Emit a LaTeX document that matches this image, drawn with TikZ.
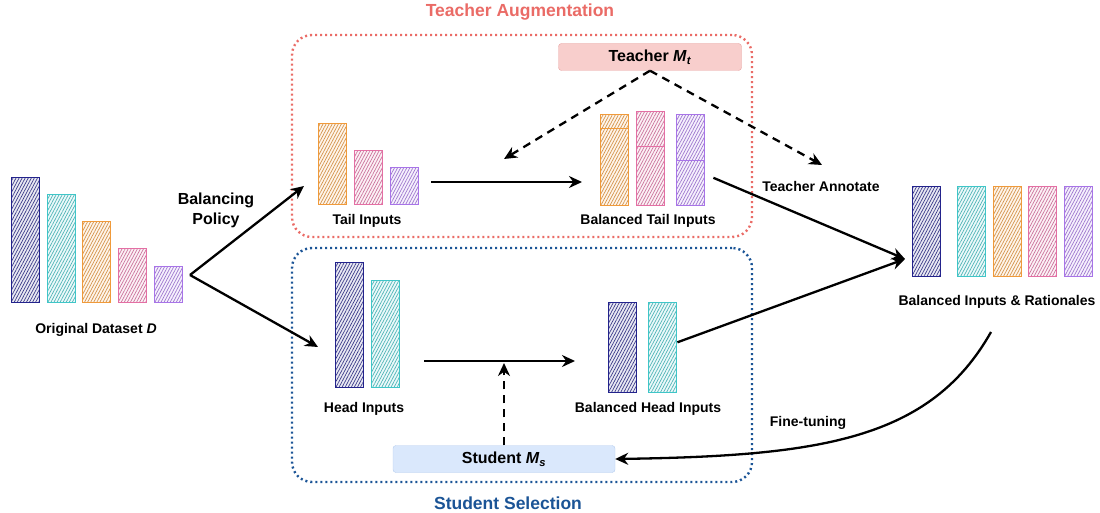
\documentclass[tikz,border=0pt]{standalone}
\usepackage{fontspec}
\setmainfont{Liberation Sans}
\usetikzlibrary{positioning,patterns.meta,arrows.meta,calc}
\definecolor{dnavy}{HTML}{23238C}
\definecolor{dcyan}{HTML}{3FC6C8}
\definecolor{dorange}{HTML}{F09A3A}
\definecolor{dpink}{HTML}{E46FA4}
\definecolor{dpurple}{HTML}{A874E8}
\definecolor{augred}{HTML}{EA6B66}
\definecolor{selblue}{HTML}{1B5496}
\definecolor{tfill}{HTML}{F8CECC}
\definecolor{tdraw}{HTML}{E8A3A1}
\definecolor{sfill}{HTML}{DAE8FC}
\definecolor{sdraw}{HTML}{B4CCEE}
\newcommand{\mdl}[2]{\textit{#1}\textsubscript{\textit{#2}}}

\begin{document}
\begin{tikzpicture}[x=1pt,y=-1pt,
        font=\fontsize{14}{16}\selectfont\bfseries,
        every node/.style={inner sep=0pt},
        bar/.style={draw=#1,line width=1.4pt,anchor=south west,minimum width=28pt,
          preaction={fill=#1!10},
          pattern={Lines[angle=62,distance=2.7pt,line width=0.7pt]},
          pattern color=#1!75!gray},
        frame/.style={draw,rounded corners=20pt,line width=2.4pt,dash pattern=on 2pt off 3pt},
        model/.style={rectangle,rounded corners=3pt,minimum height=27pt,font=\fontsize{16}{18}\selectfont\bfseries},
        title/.style={font=\fontsize{17.5}{20}\selectfont\bfseries},
        flow/.style={line width=2.3pt,-{Stealth[length=13pt,width=12pt]}},
        call/.style={flow,dash pattern=on 8pt off 6pt}
        ]
        \useasboundingbox (0,0) rectangle (1100,513);

        % the two stages
        \node[frame,draw=augred,minimum width=460pt,minimum height=202pt] (aug) at (522,136) {};
        \node[title,text=augred] (augtitle) at (520,12) {Teacher Augmentation};
        \node[frame,draw=selblue,minimum width=460pt,minimum height=234pt] (sel) at (522,365) {};
        \node[title,text=selblue] (seltitle) at (508,503) {Student Selection};

        % the original dataset
        \node[bar=dnavy,minimum height=125pt] (o1) at (11,303) {};
        \node[bar=dcyan,minimum height=108pt] (o2) at (47,303) {};
        \node[bar=dorange,minimum height=81pt] (o3) at (82,303) {};
        \node[bar=dpink,minimum height=54pt] (o4) at (118,303) {};
        \node[bar=dpurple,minimum height=36pt] (o5) at (154,303) {};
        \node (orig) at (96,330) {Original Dataset \textit{D}};
        \node[align=center,font=\fontsize{16}{20}\selectfont\bfseries] (policy) at (216,210) {Balancing\\Policy};

        % the tail inputs
        \node[bar=dorange,minimum height=81pt] (t1) at (318,205) {};
        \node[bar=dpink,minimum height=54pt] (t2) at (354,205) {};
        \node[bar=dpurple,minimum height=37pt] (t3) at (390,205) {};
        \node (tail) at (367,221) {Tail Inputs};

        % the balanced tail inputs
        \node[bar=dorange,minimum height=77pt] (bt1) at (600,206) {};
        \node[bar=dorange,minimum height=14pt] (bt1x) at (600,129) {};
        \node[bar=dpink,minimum height=59pt] (bt2) at (636,206) {};
        \node[bar=dpink,minimum height=35pt] (bt2x) at (636,147) {};
        \node[bar=dpurple,minimum height=45pt] (bt3) at (676,206) {};
        \node[bar=dpurple,minimum height=46pt] (bt3x) at (676,161) {};
        \node (baltail) at (648,221) {Balanced Tail Inputs};

        % the teacher
        \node[model,fill=tfill,draw=tdraw,minimum width=183pt] (teacher) at (650,57) {Teacher \mdl{M}{t}};
        \coordinate (gen) at (504,159);
        \coordinate (annot) at (822,165);
        \node (annotlbl) at (821,186) {Teacher Annotate};

        % the head inputs
        \node[bar=dnavy,minimum height=125pt] (h1) at (335,388) {};
        \node[bar=dcyan,minimum height=107pt] (h2) at (371,388) {};
        \node (head) at (364,409) {Head Inputs};

        % the balanced head inputs
        \node[bar=dnavy,minimum height=90pt] (bh1) at (608,393) {};
        \node[bar=dcyan,minimum height=90pt] (bh2) at (648,393) {};
        \node (balhead) at (648,409) {Balanced Head Inputs};

        % the student
        \node[model,fill=sfill,draw=sdraw,minimum width=222pt] (student) at (504,459) {Student \mdl{M}{s}};

        % the balanced inputs and rationales
        \node[bar=dnavy,minimum height=90pt] (r1) at (912,277) {};
        \node[bar=dcyan,minimum height=90pt] (r2) at (957,277) {};
        \node[bar=dorange,minimum height=90pt] (r3) at (993,277) {};
        \node[bar=dpink,minimum height=90pt] (r4) at (1028,277) {};
        \node[bar=dpurple,minimum height=90pt] (r5) at (1064,277) {};
        \node (result) at (997,302) {Balanced Inputs \& Rationales};
        \node (finelbl) at (808,423) {Fine-tuning};

        % the edges
        \coordinate (split) at (190,275);
        \coordinate (tailin) at (304,186);
        \coordinate (headin) at (318,347);
        \coordinate (resin) at (905,259);
        \coordinate (ftstart) at (991,332);
        \draw[flow] (split) -- (tailin);
        \draw[flow] (split) -- (headin);
        \draw[flow] (t3.east |- 0,182) ++(12,0) -- (582,182);
        \draw[flow] (h2.east |- 0,361) ++(24,0) -- (575,361);
        \draw[call] (teacher.south) -- (gen);
        \draw[call] (teacher.south) -- (annot);
        \draw[call] (student.north) -- (504,363);
        \draw[flow] ($(bt3.east)+(8,-5)$) -- (resin);
        \draw[flow] ($(bh2.east)+(0,-5)$) -- (resin);
        \draw[flow] (ftstart) .. controls (930,440) and (820,456) .. (student.east);
\end{tikzpicture}
\end{document}
